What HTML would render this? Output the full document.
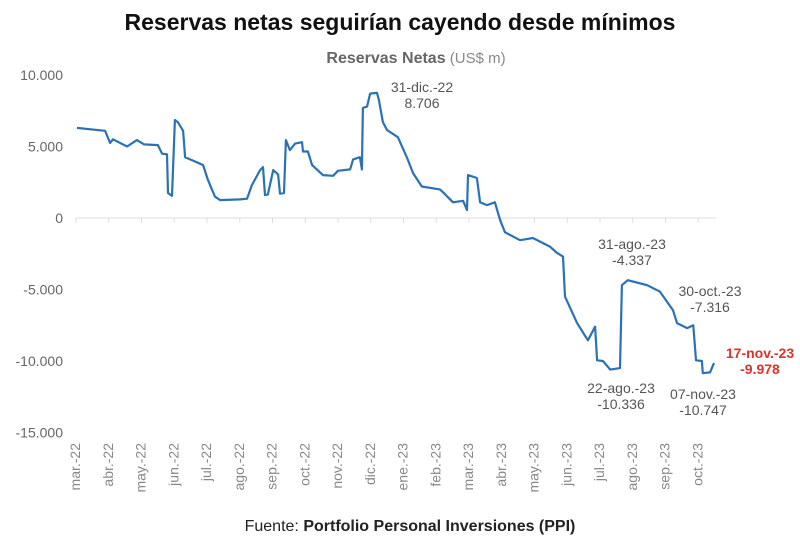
<!DOCTYPE html>
<html><head><meta charset="utf-8"><style>
body{margin:0;background:#fff;font-family:"Liberation Sans",sans-serif;}
svg text{font-family:"Liberation Sans",sans-serif;}
</style></head><body>
<svg id="chart" width="800" height="540" viewBox="0 0 800 540" xmlns="http://www.w3.org/2000/svg">
<text x="400" y="30" text-anchor="middle" font-size="23" font-weight="bold" fill="#111">Reservas netas seguirían cayendo desde mínimos</text>
<text x="416" y="63" text-anchor="middle" font-size="16" fill="#666"><tspan font-weight="bold">Reservas Netas</tspan><tspan fill="#888" font-size="15"> (US$ m)</tspan></text>
<g id="yaxis"></g>
<g id="xaxis"></g>
<path id="line" fill="none" stroke="#2a72b5" stroke-width="2.2" stroke-linejoin="round"/>
<g font-size="14" fill="#555" text-anchor="middle">
<text x="422" y="92">31-dic.-22</text>
<text x="422" y="108">8.706</text>
<text x="632" y="249">31-ago.-23</text>
<text x="632" y="265">-4.337</text>
<text x="710" y="296">30-oct.-23</text>
<text x="710" y="312">-7.316</text>
<text x="621" y="393">22-ago.-23</text>
<text x="621" y="409">-10.336</text>
<text x="703" y="399">07-nov.-23</text>
<text x="703" y="415">-10.747</text>
<text x="760" y="358" fill="#e03030" font-weight="bold">17-nov.-23</text>
<text x="760" y="374" fill="#e03030" font-weight="bold">-9.978</text>
</g>
<text x="410" y="531" text-anchor="middle" font-size="16" fill="#222">Fuente: <tspan font-weight="bold">Portfolio Personal Inversiones (PPI)</tspan></text>
</svg>
<script>
const months=["mar.-22","abr.-22","may.-22","jun.-22","jul.-22","ago.-22","sep.-22","oct.-22","nov.-22","dic.-22","ene.-23","feb.-23","mar.-23","abr.-23","may.-23","jun.-23","jul.-23","ago.-23","sep.-23","oct.-23"];
const yTicks=[10000,5000,0,-5000,-10000,-15000];
const yTickLabels=["10.000","5.000","0","-5.000","-10.000","-15.000"];
const t=[0.03,0.89,1.04,1.13,1.56,1.86,2.08,2.5,2.63,2.78,2.81,2.93,3.02,3.11,3.27,3.33,3.69,3.88,4.03,4.24,4.4,5.01,5.22,5.37,5.62,5.71,5.77,5.86,6.02,6.17,6.23,6.35,6.41,6.53,6.69,6.9,6.93,7.08,7.21,7.54,7.85,8.0,8.37,8.46,8.67,8.73,8.76,8.89,8.98,9.19,9.25,9.37,9.5,9.83,10.11,10.29,10.56,11.11,11.21,11.51,11.82,11.94,11.97,12.24,12.34,12.55,12.79,12.95,13.1,13.56,13.95,14.47,14.69,14.87,14.93,15.3,15.63,15.85,15.91,16.09,16.31,16.61,16.67,16.85,17.44,17.83,18.23,18.35,18.66,18.85,18.93,19.11,19.14,19.36,19.48];
const values=[6300,6100,5250,5500,5000,5450,5150,5100,4500,4450,1750,1550,6850,6700,6100,4250,3900,3700,2650,1500,1250,1300,1350,2300,3350,3550,1600,1650,3350,3050,1700,1750,5450,4750,5200,5300,4650,4650,3700,3000,2950,3300,3400,4100,4250,3400,7700,7800,8700,8750,8250,6700,6150,5650,4200,3150,2200,2000,1800,1100,1200,550,3000,2800,1100,900,1100,-150,-1000,-1550,-1400,-2000,-2450,-2700,-5500,-7350,-8550,-7600,-9950,-10000,-10600,-10500,-4700,-4350,-4700,-5150,-6450,-7350,-7700,-7500,-9950,-10000,-10850,-10800,-10150];
const X0=76,MW=32.75,Y0=218,PY=14.3/1000;
const xs=m=>X0+m*MW, ys=v=>Y0-v*PY;
const NS="http://www.w3.org/2000/svg";
const ya=document.getElementById('yaxis'),xa=document.getElementById('xaxis');
yTicks.forEach((v,i)=>{
 const tx=document.createElementNS(NS,'text');
 
 
 tx.setAttribute('x',63);tx.setAttribute('y',ys(v)+5);tx.setAttribute('text-anchor','end');
 tx.setAttribute('font-size','14');tx.setAttribute('fill','#666');tx.textContent=yTickLabels[i];ya.appendChild(tx);
});
const ax=document.createElementNS(NS,'line');


ax.setAttribute('x1',X0);ax.setAttribute('x2',716);ax.setAttribute('y1',Y0);ax.setAttribute('y2',Y0);ax.setAttribute('stroke','#ddd');ax.setAttribute('stroke-width','1');xa.appendChild(ax);
months.forEach((m,i)=>{
 const x=xs(i);
 const tk=document.createElementNS(NS,'line');
 
 
 tk.setAttribute('x1',x);tk.setAttribute('x2',x);tk.setAttribute('y1',Y0);tk.setAttribute('y2',Y0+5);tk.setAttribute('stroke','#ddd');xa.appendChild(tk);
 const tx=document.createElementNS(NS,'text');
 
 
 tx.setAttribute('transform',`translate(${x+4},443) rotate(-90)`);tx.setAttribute('text-anchor','end');
 tx.setAttribute('font-size','14');tx.setAttribute('fill','#888');tx.textContent=m;xa.appendChild(tx);
});
document.getElementById('line').setAttribute('d',t.map((m,i)=>(i?'L':'M')+xs(m).toFixed(1)+','+ys(values[i]).toFixed(1)).join(''));
</script>
</body></html>
